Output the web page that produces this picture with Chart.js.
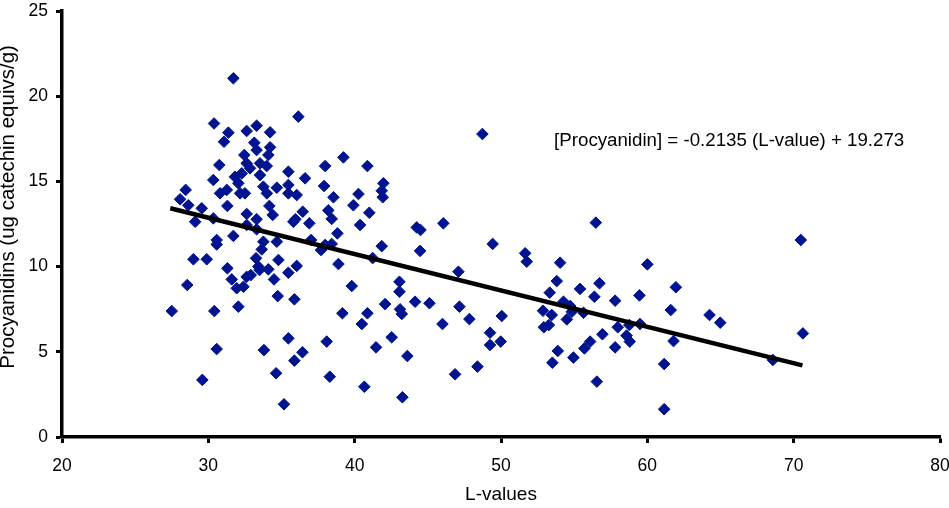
<!DOCTYPE html>
<html>
<head>
<meta charset="utf-8">
<title>Procyanidins vs L-values</title>
<script src="https://cdn.jsdelivr.net/npm/chart.js@4.4.1/dist/chart.umd.min.js"></script>
<style>
  html, body { margin: 0; padding: 0; background: #fff; }
  #chart { display: block; }
</style>
</head>
<body>
<canvas id="chart" width="949" height="508"></canvas>
<script>
// L-value of each sample
let lValues = [
  31.71, 36.15, 30.39, 31.37, 31.07, 32.62, 33.30, 34.22, 33.14, 33.30,
  34.22, 34.10, 32.46, 32.62, 33.53, 33.99, 30.75, 31.82, 32.28, 33.53,
  30.34, 33.76, 34.68, 35.47, 35.47, 36.61, 37.98, 37.91, 28.45, 28.07,
  30.80, 31.26, 32.17, 32.50, 34.00, 35.47, 36.04, 32.85, 32.05,
  28.63, 29.55, 29.10, 31.30, 32.62, 33.30, 30.34, 32.62, 33.30, 34.17,
  34.40, 31.71, 30.57, 30.57, 33.76, 33.65, 34.68, 35.81, 35.95, 36.90,
  36.45, 37.02, 37.70, 38.20, 37.98, 28.98, 29.89, 33.26, 33.42, 33.50,
  34.10, 34.79, 31.30, 31.60, 32.62, 32.90, 32.40, 31.94, 34.49, 35.47,
  36.04, 28.56, 34.74, 35.88, 27.50, 30.41, 32.05,
  30.57, 29.59, 33.80, 35.47, 36.43, 35.88, 34.63, 35.17, 38.09, 38.30,
  48.73, 39.23, 40.87, 38.55, 40.26, 39.91, 41.96, 41.85, 41.92, 38.43,
  41.00, 40.37, 38.82, 38.43, 41.85, 44.24, 44.50, 46.06, 49.43, 44.47,
  41.23,
  38.89, 47.09, 39.80, 43.06, 43.06, 42.08, 44.13, 45.11, 43.10, 43.22,
  39.16, 40.87, 40.49, 47.16, 47.84, 46.00, 50.05, 49.25, 49.25, 49.98,
  41.46, 42.53, 43.60, 48.39, 46.86, 40.66, 43.26,
  56.48, 51.65, 51.76, 54.04, 60.00, 53.81, 56.73, 55.40, 61.95, 53.33,
  56.38, 57.80, 59.46, 52.87, 53.47, 54.27, 54.73, 54.84, 54.50, 55.64,
  52.93, 53.27, 61.60, 57.98, 58.77, 59.50, 58.58, 58.80, 56.93, 57.80,
  56.09, 55.70, 54.95, 53.88, 53.51, 61.79, 61.15, 56.55, 61.15,
  70.49, 64.25, 64.98, 70.63, 68.58
];

// procyanidin content, ug catechin equivs/g
let procyanidins = [
  21.05, 18.80, 18.40, 17.86, 17.33, 17.96, 18.27, 17.88, 17.27, 16.84,
  17.00, 16.55, 16.55, 16.06, 16.06, 15.90, 15.96, 15.27, 15.47, 15.37,
  15.08, 14.69, 14.63, 15.57, 14.79, 15.18, 15.90, 14.73, 14.50, 13.95,
  14.30, 14.50, 14.30, 14.30, 14.30, 14.30, 14.20, 15.77, 14.89,
  13.60, 13.42, 12.63, 13.56, 13.09, 12.78, 12.83, 12.44, 12.19, 13.56,
  13.03, 11.80, 11.56, 11.30, 11.46, 11.01, 11.46, 12.63, 12.78, 12.54,
  13.22, 11.56, 10.97, 13.30, 11.27, 10.43, 10.43, 10.49, 10.00, 9.80,
  9.84, 10.39, 9.90, 9.25, 9.40, 9.50, 8.82, 8.73, 9.25, 9.64,
  10.04, 8.92, 8.27, 8.08, 7.39, 7.39, 7.65,
  5.16, 3.35, 5.10, 5.79, 4.97, 4.48, 3.74, 1.92, 5.60, 3.54,
  17.78, 16.41, 15.90, 14.07, 14.26, 13.60, 14.89, 14.45, 14.07, 12.80,
  13.16, 12.44, 11.95, 11.33, 11.20, 12.30, 12.15, 12.54, 11.33, 10.92,
  10.50,
  10.15, 9.70, 8.86, 9.11, 8.53, 7.80, 7.94, 7.85, 7.49, 7.22,
  7.26, 7.26, 6.63, 7.65, 6.92, 6.63, 7.10, 6.12, 5.40, 5.60,
  5.26, 5.85, 4.75, 4.13, 3.68, 2.95, 2.33,
  12.58, 10.78, 10.29, 10.23, 10.13, 9.15, 9.02, 8.69, 8.79, 8.47,
  8.23, 8.00, 8.31, 7.41, 7.16, 7.94, 7.69, 7.35, 6.90, 7.29,
  6.44, 6.57, 7.45, 6.44, 6.57, 6.63, 5.95, 5.60, 6.03, 5.26,
  5.60, 5.20, 4.66, 5.05, 4.36, 5.63, 4.28, 3.25, 1.63,
  11.56, 7.16, 6.71, 6.08, 4.52
];

// fitted line: [Procyanidin] = slope * L + intercept
let slope = -0.2135;
let intercept = 19.273;
let fitRange = [27.4, 70.6];
let equationText = '[Procyanidin] = -0.2135 (L-value) + 19.273';

let xTicks = [20, 30, 40, 50, 60, 70, 80];
let yTicks = [0, 5, 10, 15, 20, 25];

const FONT = '"Liberation Sans", Arial, Helvetica, sans-serif';
const MARKER = '#001490';

Chart.defaults.font.family = FONT;
Chart.defaults.color = '#000';

let points = lValues.map((x, i) => ({ x: x, y: procyanidins[i] }));
let fitLine = fitRange.map(x => ({ x: x, y: slope * x + intercept }));

// writes the regression equation next to the fitted line
let equationLabel = {
  id: 'equationLabel',
  afterDatasetsDraw(chart) {
    const ctx = chart.ctx;
    const px = chart.scales.x.getPixelForValue(53.63);
    const py = chart.scales.y.getPixelForValue(17.05);
    ctx.save();
    ctx.font = '18.7px ' + FONT;
    ctx.fillStyle = '#000';
    ctx.textAlign = 'left';
    ctx.textBaseline = 'alphabetic';
    ctx.fillText(equationText, px, py);
    ctx.restore();
  }
};

let axisBase = {
  border: { display: true, color: '#000', width: 3.5 },
  grid: {
    drawOnChartArea: false,
    drawTicks: true,
    tickLength: 6,
    tickWidth: 3,
    tickColor: '#000',
    color: '#000'
  }
};

const chart = new Chart(document.getElementById('chart'), {
  type: 'scatter',
  data: {
    datasets: [
      {
        type: 'line',
        data: fitLine,
        borderColor: '#000',
        borderWidth: 4.5,
        pointRadius: 0,
        fill: false,
        tension: 0
      },
      {
        data: points,
        pointStyle: 'rectRot',
        pointRadius: 5.8,
        pointBackgroundColor: MARKER,
        pointBorderColor: MARKER,
        pointBorderWidth: 1
      }
    ]
  },
  options: {
    responsive: false,
    animation: false,
    layout: { padding: { top: 11, right: 9, left: 0, bottom: 0 } },
    plugins: {
      legend: { display: false },
      tooltip: { enabled: false }
    },
    scales: {
      x: {
        ...axisBase,
        type: 'linear',
        min: 20,
        max: 80,
        afterBuildTicks: s => { s.ticks = xTicks.map(v => ({ value: v })); },
        afterFit: s => { s.height = 71; s.paddingLeft = 0; s.paddingRight = 0; },
        ticks: { font: { size: 17.5 }, padding: 13, maxRotation: 0 },
        title: { display: true, text: 'L-values', font: { size: 19 }, padding: { top: 0, bottom: 2 } }
      },
      y: {
        ...axisBase,
        type: 'linear',
        min: 0,
        max: 25,
        afterBuildTicks: s => { s.ticks = yTicks.map(v => ({ value: v })); },
        afterFit: s => { s.width = 62; s.paddingTop = 0; s.paddingBottom = 0; },
        ticks: { font: { size: 17.5 }, padding: 8 },
        title: {
          display: true,
          // leading spaces nudge the rotated title a little toward the top
          text: '      Procyanidins (ug catechin equivs/g)',
          font: { size: 20.5, lineHeight: 1 },
          padding: { top: -2, bottom: 0 }
        }
      }
    }
  },
  plugins: [equationLabel]
});
</script>
</body>
</html>
